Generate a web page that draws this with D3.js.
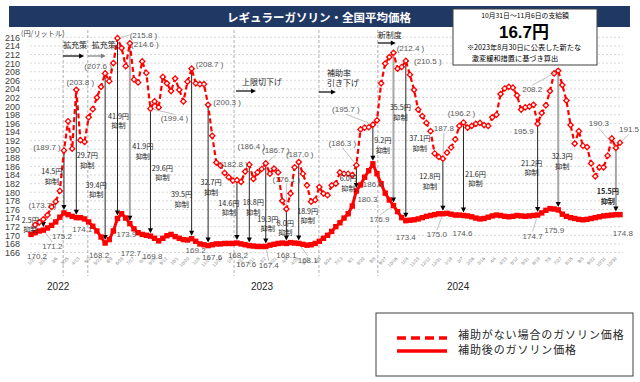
<!DOCTYPE html>
<html><head><meta charset="utf-8">
<script src="https://cdn.jsdelivr.net/npm/d3@7"></script>
<style>
html,body{margin:0;padding:0;background:#fff;}
svg{display:block;font-family:"Liberation Sans",Arial,"Noto Sans CJK JP",sans-serif;}
.jp{font-family:"Noto Sans CJK JP","Liberation Sans",sans-serif;}
</style></head><body>
<svg id="c" width="640" height="382"></svg>
<script>
// ---------------- DATA ----------------
// Weekly national average regular gasoline price (yen/L), after subsidy
const withSubsidy = [
 170.2,170.6,171.0,171.2,171.7,172.3,173.1,174.2,175.2,174.8,
 174.4,174.1,174.1,173.8,173.1,172.1,171.0,169.6,168.2,169.0,
 171.0,173.9,175.0,174.0,172.7,171.5,170.6,170.2,170.0,169.8,
 169.3,168.7,169.3,169.9,170.2,169.7,169.3,169.0,168.9,169.2,
 168.6,168.0,167.8,167.6,167.8,168.0,168.0,168.1,168.1,168.1,
 168.2,168.0,167.8,167.6,167.5,167.4,167.4,167.4,167.7,167.9,
 168.1,168.2,168.1,168.3,168.2,168.1,167.9,167.7,167.8,168.1,
 168.6,169.3,170.0,170.9,172.0,172.9,174.0,175.0,176.8,180.3,
 181.7,183.5,185.0,186.6,184.3,182.0,179.8,178.2,176.9,175.5,
 174.1,173.4,173.5,173.6,173.8,174.1,174.4,174.6,174.8,175.0,
 175.0,175.1,174.9,174.7,174.7,174.6,174.5,174.3,174.0,173.8,
 173.9,174.2,174.5,174.7,174.6,174.4,174.3,174.4,174.6,174.5,
 174.4,174.5,174.6,174.7,175.2,175.8,176.2,176.1,175.9,174.9,
 174.4,174.1,173.9,173.7,173.6,173.7,173.9,174.1,174.3,174.5,
 174.6,174.7,174.8,174.8
];
// Price if there were no subsidy
const withoutSubsidy = [
 null,172.4,173.0,173.7,174.7,176.6,177.8,180.3,189.7,196.5,
 190.1,203.8,192.1,191.7,197.4,199.3,202.0,204.5,207.6,205.8,
 210.0,215.8,213.5,209.3,214.6,206.2,205.5,210.4,207.7,199.4,
 201.1,199.7,206.8,205.3,203.5,206.4,203.8,201.1,205.7,208.7,
 205.3,205.1,205.1,200.3,193.1,186.9,186.2,184.5,183.5,182.7,
 182.8,182.4,184.8,186.4,183.1,184.6,185.4,186.7,184.3,185.5,
 184.6,178.0,176.1,179.7,185.8,187.0,184.3,181.6,177.8,178.2,
 181.2,179.7,179.3,181.6,182.0,184.6,184.3,184.3,184.0,186.3,
 194.6,195.0,195.1,195.7,196.7,205.3,209.9,211.4,212.4,208.7,
 209.1,210.5,207.3,203.8,199.2,197.7,196.1,194.2,189.0,188.2,
 187.8,189.2,190.4,192.3,195.4,196.2,195.0,195.4,195.9,196.1,
 195.6,195.4,197.4,198.0,202.8,204.1,204.5,204.3,202.5,199.2,
 199.7,199.9,200.3,195.9,198.4,200.2,203.5,207.6,208.2,204.9,
 201.3,195.6,191.3,194.2,190.8,190.5,186.7,183.7,185.8,185.8,
 188.5,192.5,190.3,191.5
];
// Weeks where the subsidy amount is annotated, and the amount (yen)
const subsidyIdx = [3,8,11,18,21,24,29,39,43,50,53,57,62,65,79,83,88,91,100,105,123,128,142];
const subsidyAmt = ["2.5","14.5","29.7","39.4","41.9","41.9","29.6","39.5","32.7","14.6","18.8","19.3","8.0","18.9","6.0","9.2","35.5","37.1","12.8","21.6","21.2","32.3","15.5"];
const yTickValues = [166,168,170,172,174,176,178,180,182,184,186,188,190,192,194,196,198,200,202,204,206,208,210,212,214,216];
const xTickLabels = ["1/27","2/15","3/6","3/25","4/13","5/2","5/21","6/9","6/28","7/17","8/5","8/24","9/12","10/1","10/20","11/8","11/27","12/16",
 "1/4","1/23","2/11","3/2","3/21","4/9","4/28","5/17","6/5","6/24","7/13","8/1","8/20","9/8","9/27","10/16","11/4","11/23","12/12","12/31",
 "1/19","2/7","2/26","3/16","4/4","4/23","5/12","5/31","6/19","7/8","7/27","8/15","9/3","9/22","10/11","10/30"];
const yearLabels = ["2022","2023","2024"];
const yearAt = [6.6, 56.1, 103.7];           // week index under which each year label sits
const eventAt = [7.8, 13.8, 49.3, 69.9, 84.2]; // week index of policy changes
const eventText = [["拡充策"],["拡充策"],["上限切下げ"],["補助率","引き下げ"],["新制度"]];
const titleText = "レギュラーガソリン・全国平均価格";
const legendText = ["補助がない場合のガソリン価格","補助後のガソリン価格"];
const infoText = ["10月31日～11月6日の支給額","16.7円","※2023年8月30日に公表した新たな","激変緩和措置に基づき算出"];

// ---------------- LAYOUT (annotation offsets) ----------------
const dashedLabelLayout = [
 {i:3,dx:-1,dy:-14,p:1},{i:8,dx:-17,dy:-3,p:1},{i:11,dx:4,dy:-7,p:1},{i:18,dx:-7,dy:-7,p:1},
 {i:21,dx:26,dy:-3,p:1,l:1},{i:24,dx:15,dy:1,p:1},{i:29,dx:24,dy:10,p:1,l:1},{i:39,dx:18,dy:-4,p:1},
 {i:43,dx:19,dy:-2,p:1},{i:50,dx:-3,dy:-16,p:1},{i:53,dx:2,dy:-18,p:1},{i:57,dx:10,dy:-13,p:1,l:1},
 {i:62,dx:0,dy:-30,p:1,l:1},{i:65,dx:1,dy:-8,p:1},{i:79,dx:-14,dy:-22,p:1,l:1},{i:83,dx:-27,dy:-15,p:1,l:1},
 {i:88,dx:17,dy:-4,p:1},{i:91,dx:22,dy:1,p:1},{i:100,dx:1,dy:-30,p:0,l:1},{i:105,dx:-2,dy:-9,p:1},
 {i:123,dx:-14,dy:8,p:0},{i:128,dx:-26,dy:19,p:0,l:1},{i:142,dx:-17,dy:-24,p:0,l:1},{i:143,dx:9,dy:-13,p:0,l:1}
];
const solidLabelLayout = [
 {i:0,dx:6,dy:22},{i:3,dx:9,dy:16.5,l:1},{i:8,dx:-2,dy:23.5},{i:11,dx:6,dy:12},{i:18,dx:-6,dy:12},
 {i:21,dx:9,dy:16},{i:24,dx:1,dy:30},{i:29,dx:2,dy:20},{i:39,dx:4,dy:12},{i:43,dx:4,dy:12},
 {i:50,dx:1,dy:12},{i:53,dx:-3,dy:19},{i:57,dx:3,dy:19,l:1},{i:62,dx:0,dy:12},{i:65,dx:9,dy:17,l:1},
 {i:79,dx:11,dy:9},{i:83,dx:0,dy:21},{i:88,dx:-14,dy:14,l:1},{i:91,dx:0,dy:17},{i:100,dx:-6,dy:21,l:1},
 {i:105,dx:-1,dy:18},{i:123,dx:-5,dy:21,l:1},{i:128,dx:-4,dy:21},{i:142,dx:7,dy:19}
];
const subsidyLabelOffset = [[-13,-10],[-12,-41],[11,-62],[-9,-58],[1,-102],[13,-77],[12,-68],[-10,-44],[3,-63],[-8,-40],[4,-43],[2,-27],[-1,-20],[9,-32],[-8,-12],[10,-23],[7,-98],[14,-82],[-13,-37],[12,-41],[-6,-52],[4,-53],[-8,-23]];
const grayArrows = new Set([24,88,128,142]);
const eventLayout = [
 {tdx:0,ty:45,ay:56,alen:21,col:"#000"},{tdx:4,ty:45,ay:56,alen:18,col:"#7f7f7f"},
 {tdx:8,ty:82,ay:91,alen:20,col:"#000"},{tdx:8,ty:73,ay:92,alen:17,col:"#000"},
 {tdx:0,ty:35,ay:43,alen:18,col:"#000"}
];

// ---------------- DRAW ----------------
const svg = d3.select("#c");
const RED = "#FF0000";
const x = d3.scaleLinear().domain([0, withSubsidy.length - 1]).range([31, 620]);
const y = d3.scaleLinear().domain([166, 216]).range([252.5, 37.3]);

// grid
svg.append("g").selectAll("line").data(yTickValues).join("line")
  .attr("x1", 30).attr("x2", 623).attr("y1", d => y(d)).attr("y2", d => y(d))
  .attr("stroke", "#cfcfcf").attr("stroke-width", 0.8).attr("stroke-dasharray", "2,2");
// y-axis labels
const yAxis = d3.axisLeft(y).tickValues(yTickValues).tickSize(0).tickPadding(0);
const ya = svg.append("g").attr("transform", "translate(20,0)").call(yAxis);
ya.select(".domain").remove();
ya.selectAll("text").attr("font-size", 9).attr("fill", "#404040")
  .attr("font-family", "'Liberation Sans',Arial,sans-serif");
svg.append("text").attr("class", "jp").attr("x", 21).attr("y", 36).attr("font-size", 7.2)
  .attr("fill", "#404040").text("(円/リットル)");

// x tick labels (rotated)
const tx = d3.scaleLinear().domain([0, xTickLabels.length - 1]).range([36, 617]);
svg.append("g").selectAll("text").data(xTickLabels).join("text")
  .attr("transform", (d, k) => `translate(${tx(k)},259) rotate(-45)`)
  .attr("text-anchor", "end").attr("font-size", 4.6).attr("fill", "#7f7f7f").text(d => d);
// year labels
svg.append("g").selectAll("text").data(yearLabels).join("text")
  .attr("x", (d, k) => x(yearAt[k])).attr("y", 290).attr("text-anchor", "middle")
  .attr("font-size", 10).attr("fill", "#262626").text(d => d);

// event lines
svg.append("g").selectAll("line").data(eventAt).join("line")
  .attr("x1", d => x(d)).attr("x2", d => x(d)).attr("y1", 30).attr("y2", 276)
  .attr("stroke", "#9a9a9a").attr("stroke-width", 0.8).attr("stroke-dasharray", "3,2");
eventAt.forEach((e, k) => {
  const L = eventLayout[k], ex = x(e);
  const t = svg.append("text").attr("class", "jp").attr("font-size", 8).attr("fill", "#262626");
  eventText[k].forEach((s, j) => {
    t.append("tspan").attr("x", ex + L.tdx).attr("y", L.ty + j * 10 + 3).text(s);
  });
  const ax0 = ex + (k === 2 ? 2 : 0), ax1 = ax0 + L.alen;
  svg.append("line").attr("x1", ax0).attr("x2", ax1 - 4).attr("y1", L.ay).attr("y2", L.ay)
    .attr("stroke", L.col).attr("stroke-width", 1.2);
  svg.append("path").attr("d", `M${ax1},${L.ay} L${ax1 - 5},${L.ay - 2.5} L${ax1 - 5},${L.ay + 2.5} Z`).attr("fill", L.col);
});

// subsidy arrows
subsidyIdx.forEach((i, k) => {
  const px = x(i), yt = y(withoutSubsidy[i]) + 3, yb = y(withSubsidy[i]) - 3;
  const gray = grayArrows.has(i);
  svg.append("line").attr("x1", px).attr("x2", px).attr("y1", yt).attr("y2", yb - 4)
    .attr("stroke", gray ? "#a6a6a6" : "#262626").attr("stroke-width", gray ? 2 : 1);
  svg.append("path").attr("d", `M${px},${yb} L${px - 2.6},${yb - 5} L${px + 2.6},${yb - 5} Z`).attr("fill", "#000");
});

// dashed series (no subsidy)
const idx = d3.range(withSubsidy.length);
const dashedLine = d3.line().defined(i => withoutSubsidy[i] != null).x(i => x(i)).y(i => y(withoutSubsidy[i]));
svg.append("path").attr("d", dashedLine(idx)).attr("fill", "none").attr("stroke", RED)
  .attr("stroke-width", 2.2).attr("stroke-dasharray", "5,3");
const dIdx = idx.filter(i => withoutSubsidy[i] != null);
svg.append("g").selectAll("path").data(dIdx).join("path")
  .attr("d", i => { const cx = x(i), cy = y(withoutSubsidy[i]); return `M${cx},${cy - 3.6} L${cx + 3.6},${cy} L${cx},${cy + 3.6} L${cx - 3.6},${cy} Z`; })
  .attr("fill", RED);
svg.append("g").selectAll("circle").data(dIdx).join("circle")
  .attr("cx", i => x(i)).attr("cy", i => y(withoutSubsidy[i])).attr("r", 1.4).attr("fill", "#fff");

// solid series (after subsidy)
const solidLine = d3.line().x(i => x(i)).y(i => y(withSubsidy[i]));
svg.append("path").attr("d", solidLine(idx)).attr("fill", "none").attr("stroke", RED).attr("stroke-width", 3);
svg.append("g").selectAll("rect").data(idx).join("rect")
  .attr("x", i => x(i) - 2.7).attr("y", i => y(withSubsidy[i]) - 2.7).attr("width", 5.4).attr("height", 5.4).attr("fill", RED);

// helper for leader lines
function leader(cx, cy, px, py, hw) {
  const ddx = px - cx, ddy = py - cy;
  let sx, sy;
  if (Math.abs(ddx) / hw > Math.abs(ddy) / 4.5) { sx = cx + Math.sign(ddx) * hw; sy = cy; }
  else { sx = cx; sy = cy + Math.sign(ddy) * 4.5; }
  const len = Math.hypot(px - sx, py - sy);
  if (len < 4) return;
  const ex = px - (px - sx) / len * 3.5, ey = py - (py - sy) / len * 3.5;
  svg.append("line").attr("x1", sx).attr("y1", sy).attr("x2", ex).attr("y2", ey)
    .attr("stroke", "#a6a6a6").attr("stroke-width", 0.7);
}
// value labels: no subsidy
dashedLabelLayout.forEach(L => {
  const v = withoutSubsidy[L.i], px = x(L.i), py = y(v);
  const t = L.p ? `(${v.toFixed(1)} )` : v.toFixed(1);
  const cx = px + L.dx, cy = py + L.dy;
  if (L.l) leader(cx, cy, px, py, L.p ? 14 : 10);
  svg.append("text").attr("x", cx).attr("y", cy).attr("text-anchor", "middle").attr("dominant-baseline", "central")
    .attr("font-size", 8).attr("fill", "#595959").text(t);
});
// value labels: after subsidy
solidLabelLayout.forEach(L => {
  const v = withSubsidy[L.i], px = x(L.i), py = y(v);
  const cx = px + L.dx, cy = py + L.dy;
  if (L.l) leader(cx, cy, px, py, 10);
  svg.append("text").attr("x", cx).attr("y", cy).attr("text-anchor", "middle").attr("dominant-baseline", "central")
    .attr("font-size", 8).attr("fill", "#595959").text(v.toFixed(1));
});
// subsidy amount labels (two lines in one text)
subsidyIdx.forEach((i, k) => {
  const [dx, dy] = subsidyLabelOffset[k];
  const cx = x(i) + dx, cy = y(withSubsidy[i]) + dy;
  const last = k === subsidyIdx.length - 1;
  const t = svg.append("text").attr("class", "jp").attr("font-size", 7.2).attr("fill", "#262626")
    .attr("font-weight", last ? "bold" : "normal").attr("text-anchor", "middle");
  t.append("tspan").attr("x", cx).attr("y", cy + 2.5).text(subsidyAmt[k] + "円");
  t.append("tspan").attr("x", cx).attr("y", cy + 12).text("抑制");
});

// title bar
svg.append("rect").attr("x", 9).attr("y", 6).attr("width", 621).attr("height", 21).attr("fill", "#1F3864");
svg.append("text").attr("class", "jp").attr("x", 319).attr("y", 16.5).attr("text-anchor", "middle")
  .attr("dominant-baseline", "central").attr("font-size", 11.5).attr("font-weight", "bold").attr("fill", "#fff").text(titleText);

// info box
svg.append("rect").attr("x", 453).attr("y", 9).attr("width", 144).attr("height", 56)
  .attr("fill", "#fff").attr("stroke", "#404040").attr("stroke-width", 1);
const ib = svg.append("g").attr("fill", "#000").attr("text-anchor", "middle");
ib.append("text").attr("class", "jp").attr("x", 525).attr("y", 18.3).attr("font-size", 6.8).text(infoText[0]);
ib.append("text").attr("x", 524).attr("y", 38).attr("font-size", 17).attr("font-weight", "bold")
  .attr("font-family", "'Liberation Sans',Arial,'Noto Sans CJK JP',sans-serif").text(infoText[1]);
ib.append("text").attr("class", "jp").attr("x", 524).attr("y", 50).attr("font-size", 7.2).text(infoText[2]);
ib.append("text").attr("class", "jp").attr("x", 515).attr("y", 60.5).attr("font-size", 7.2).text(infoText[3]);

// legend
svg.append("rect").attr("x", 376).attr("y", 313).attr("width", 257).attr("height", 63)
  .attr("fill", "#fff").attr("stroke", "#404040").attr("stroke-width", 1);
svg.append("line").attr("x1", 397).attr("x2", 447).attr("y1", 338).attr("y2", 338)
  .attr("stroke", RED).attr("stroke-width", 3.5).attr("stroke-dasharray", "9,5");
svg.append("line").attr("x1", 397).attr("x2", 447).attr("y1", 351).attr("y2", 351)
  .attr("stroke", RED).attr("stroke-width", 3.5);
legendText.forEach((t, k) => {
  svg.append("text").attr("class", "jp").attr("x", 458).attr("y", 338.8 + k * 15.5)
    .attr("font-size", 11).attr("letter-spacing", 0.9).attr("fill", "#262626").text(t);
});
</script>
</body></html>
